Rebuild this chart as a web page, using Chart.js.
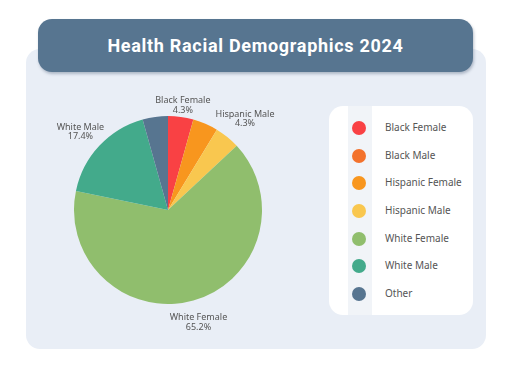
<!DOCTYPE html>
<html>
<head>
<meta charset="utf-8">
<script src="https://cdn.jsdelivr.net/npm/chart.js@4/dist/chart.umd.min.js"></script>
<style>
    html, body { margin: 0; padding: 0; background: #ffffff; }
    body { width: 512px; height: 384px; position: relative; overflow: hidden; font-family: "Noto Sans", sans-serif; }
    #panel {
        position: absolute; left: 26px; top: 49px; width: 460px; height: 300px;
        background: #e9eef6; border-radius: 14px;
    }
    #banner {
        position: absolute; left: 38px; top: 19px; width: 435px; height: 53px;
        background: #577590; border-radius: 14px;
        box-shadow: 1px 2px 3px rgba(60, 80, 110, 0.35);
        color: #ffffff; font-family: Roboto, sans-serif; font-weight: bold; font-size: 18px;
        letter-spacing: 0.7px; line-height: 53px; text-align: center;
    }
    #chartWrap { position: absolute; left: 38px; top: 80px; width: 260px; height: 260px; }
    #legend {
        position: absolute; left: 329px; top: 106px; width: 144px; height: 209px;
        background: #ffffff; border-radius: 14px; overflow: hidden;
    }
    #legend .strip { position: absolute; left: 19px; top: 0; width: 24px; height: 100%; background: #f1f4f8; }
    #legend ul { list-style: none; margin: 0; padding: 0; position: absolute; left: 0; top: 11px; width: 100%; }
    #legend li { height: 27.7px; position: relative; font-size: 10px; color: #555555; }
    #legend .dot {
        position: absolute; left: 23px; top: 4px; width: 14px; height: 14px; border-radius: 50%;
    }
    #legend .txt { position: absolute; left: 56px; top: 3px; white-space: nowrap; }
</style>
</head>
<body>
<div id="panel"></div>
<div id="banner">Health Racial Demographics 2024</div>
<div id="chartWrap"><canvas id="chart" width="260" height="260"></canvas></div>
<div id="legend"><div class="strip"></div><ul id="legendList"></ul></div>

<script>
// Chart data (counts out of 23)
const categories = [
    'Black Female',
    'Black Male',
    'Hispanic Female',
    'Hispanic Male',
    'White Female',
    'White Male',
    'Other'
];
const counts = [1, 0, 1, 1, 15, 4, 1];
const sliceColors = ['#f94144', '#f3722c', '#f8961e', '#f9c74f', '#90be6d', '#43aa8b', '#577590'];

const total = counts.reduce((a, b) => a + b, 0);

// Outside labels, hidden when they would overlap a previous one
const outsideLabels = {
    id: 'outsideLabels',
    afterDatasetsDraw(chart) {
        const ctx = chart.ctx;
        const meta = chart.getDatasetMeta(0);
        const placed = [];
        ctx.save();
        ctx.font = '9px "Noto Sans", sans-serif';
        ctx.fillStyle = '#555555';
        ctx.textAlign = 'center';
        ctx.textBaseline = 'middle';
        meta.data.forEach((arc, i) => {
            if (!counts[i]) return;
            const mid = (arc.startAngle + arc.endAngle) / 2;
            const dx = Math.cos(mid), dy = Math.sin(mid);
            const line1 = categories[i];
            const line2 = (counts[i] / total * 100).toFixed(1) + '%';
            const w = Math.max(ctx.measureText(line1).width, ctx.measureText(line2).width);
            const h = 19;
            const ext = Math.abs(dx) * w / 2 + Math.abs(dy) * h / 2;
            const d = arc.outerRadius + 2 + ext;
            const cx = arc.x + dx * d;
            const cy = arc.y + dy * d + 3.5;
            const box = { l: cx - w / 2, r: cx + w / 2, t: cy - h / 2, b: cy + h / 2 };
            const hit = placed.some(p => box.l < p.r && box.r > p.l && box.t < p.b && box.b > p.t);
            if (hit) return;
            placed.push(box);
            ctx.fillText(line1, cx, cy - 4.5);
            ctx.fillText(line2, cx, cy + 5);
        });
        ctx.restore();
    }
};

const config = {
    type: 'pie',
    data: {
        labels: categories,
        datasets: [{
            data: counts,
            backgroundColor: sliceColors,
            borderWidth: 0
        }]
    },
    options: {
        responsive: false,
        animation: false,
        layout: { padding: 36 },
        plugins: {
            legend: { display: false },
            tooltip: { enabled: false }
        }
    },
    plugins: [outsideLabels]
};

const demoChart = new Chart(document.getElementById('chart'), config);

// HTML legend built from the same arrays
const list = document.getElementById('legendList');
categories.forEach((name, i) => {
    const li = document.createElement('li');
    li.innerHTML = '<span class="dot" style="background:' + sliceColors[i] + '"></span><span class="txt">' + name + '</span>';
    list.appendChild(li);
});
</script>
</body>
</html>
